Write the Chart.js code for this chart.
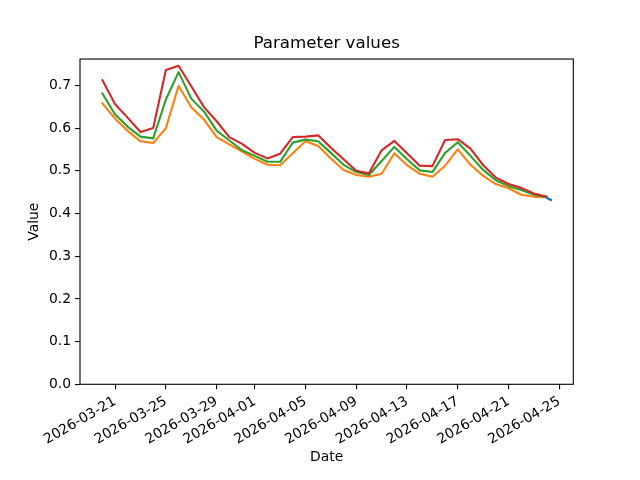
<!DOCTYPE html>
<html>
<head>
<meta charset="utf-8">
<script src="https://cdn.jsdelivr.net/npm/chart.js@4/dist/chart.umd.min.js"></script>
<style>
  html, body { margin: 0; padding: 0; background: #ffffff; }
  #wrap { width: 640px; height: 480px; }
</style>
</head>
<body>
<div id="wrap"><canvas id="c" width="640" height="480"></canvas></div>
<script>
// ---- data ----
const dates = [
  '2026-03-20','2026-03-21','2026-03-22','2026-03-23','2026-03-24','2026-03-25',
  '2026-03-26','2026-03-27','2026-03-28','2026-03-29','2026-03-30','2026-03-31',
  '2026-04-01','2026-04-02','2026-04-03','2026-04-04','2026-04-05','2026-04-06',
  '2026-04-07','2026-04-08','2026-04-09','2026-04-10','2026-04-11','2026-04-12',
  '2026-04-13','2026-04-14','2026-04-15','2026-04-16','2026-04-17','2026-04-18',
  '2026-04-19','2026-04-20','2026-04-21','2026-04-22','2026-04-23','2026-04-24'
];
const upperValues = [
  0.712, 0.656, 0.624, 0.591, 0.600, 0.736, 0.746, 0.698, 0.649, 0.616, 0.579, 0.563,
  0.542, 0.529, 0.540, 0.579, 0.580, 0.583, 0.554, 0.527, 0.500, 0.494, 0.548, 0.570,
  0.541, 0.512, 0.511, 0.572, 0.574, 0.552, 0.513, 0.484, 0.469, 0.460, 0.447, 0.439
];
const medianValues = [
  0.681, 0.632, 0.603, 0.580, 0.576, 0.667, 0.731, 0.669, 0.639, 0.594, 0.571, 0.548,
  0.535, 0.521, 0.521, 0.566, 0.573, 0.569, 0.542, 0.514, 0.497, 0.490, 0.523, 0.556,
  0.527, 0.501, 0.497, 0.542, 0.567, 0.535, 0.502, 0.478, 0.464, 0.455, 0.444, 0.439
];
const lowerValues = [
  0.658, 0.622, 0.593, 0.569, 0.565, 0.600, 0.699, 0.649, 0.620, 0.579, 0.562, 0.545,
  0.528, 0.514, 0.513, 0.541, 0.569, 0.558, 0.529, 0.502, 0.490, 0.486, 0.493, 0.541,
  0.513, 0.493, 0.486, 0.512, 0.550, 0.514, 0.488, 0.469, 0.459, 0.444, 0.439, 0.439
];
const recentTimes = ['2026-04-24T00:00', '2026-04-24T04:00', '2026-04-24T08:00'];
const recentValues = [0.437, 0.434, 0.432];

const xTickLabels = [
  '2026-03-21','2026-03-25','2026-03-29','2026-04-01','2026-04-05',
  '2026-04-09','2026-04-13','2026-04-17','2026-04-21','2026-04-25'
];
const yTickValues = [0.0, 0.1, 0.2, 0.3, 0.4, 0.5, 0.6, 0.7];

// ---- helpers ----
function dayNum(s) {
  const iso = s.length === 10 ? s + 'T00:00:00Z' : s + ':00Z';
  return Date.parse(iso) / 86400000;
}
function toPoints(xs, ys) {
  return xs.map((d, i) => ({ x: dayNum(d), y: ys[i] }));
}

const allX = dates.map(dayNum).concat(recentTimes.map(dayNum));
const xLo = Math.min(...allX), xHi = Math.max(...allX);
const xPad = (xHi - xLo) * 0.05;
const allY = upperValues.concat(medianValues, lowerValues, recentValues);
const yLo = Math.min(...allY), yHi = Math.max(...allY);
const yTop = yHi + (yHi - yLo) * 0.05;

const FONT = "'DejaVu Sans', sans-serif";
const TICK_FS = 13.9;

const frame = {
  id: 'frame',
  afterDatasetsDraw(chart) {
    const a = chart.chartArea, ctx = chart.ctx;
    ctx.save();
    ctx.strokeStyle = '#000';
    ctx.lineWidth = 1.1;
    ctx.strokeRect(a.left, a.top, a.right - a.left, a.bottom - a.top);
    ctx.restore();
  }
};

Chart.defaults.font.family = FONT;
Chart.defaults.color = '#000';

new Chart(document.getElementById('c'), {
  type: 'line',
  data: {
    datasets: [
      { label: 'recent', data: toPoints(recentTimes, recentValues), borderColor: '#1f77b4', borderWidth: 2.4, order: -1 },
      { label: 'lower', data: toPoints(dates, lowerValues), borderColor: '#ff7f0e', order: 2 },
      { label: 'median', data: toPoints(dates, medianValues), borderColor: '#2ca02c', order: 1 },
      { label: 'upper', data: toPoints(dates, upperValues), borderColor: '#d62728', order: 0 }
    ]
  },
  options: {
    responsive: false,
    animation: false,
    devicePixelRatio: 1,
    layout: { padding: { left: 0, right: 66.7, top: 0, bottom: 0 } },
    elements: {
      line: { borderWidth: 2.1, tension: 0, fill: false, borderCapStyle: 'square', borderJoinStyle: 'round' },
      point: { radius: 0, hoverRadius: 0 }
    },
    plugins: {
      legend: { display: false },
      tooltip: { enabled: false },
      title: {
        display: true,
        text: 'Parameter values',
        fullSize: false,
        color: '#000',
        font: { family: FONT, size: 16.7, weight: 'normal', lineHeight: 1.2 },
        padding: { top: 34, bottom: 5 }
      }
    },
    scales: {
      x: {
        type: 'linear',
        min: xLo - xPad,
        max: xHi + xPad,
        afterBuildTicks(scale) {
          scale.ticks = xTickLabels.map(s => ({ value: dayNum(s) }));
        },
        afterFit(scale) { scale.height = 480 - 384.3; },
        ticks: {
          autoSkip: false,
          minRotation: 30,
          maxRotation: 30,
          padding: 4,
          color: '#000',
          font: { family: FONT, size: TICK_FS },
          callback: (v, i) => xTickLabels[i]
        },
        grid: { display: true, drawOnChartArea: false, drawTicks: true, tickLength: 5, tickColor: '#000', lineWidth: 1.1 },
        border: { display: false },
        title: {
          display: true, text: 'Date', color: '#000',
          font: { family: FONT, size: TICK_FS, lineHeight: 1.2 },
          padding: { top: 0, bottom: 14 }
        }
      },
      y: {
        type: 'linear',
        min: 0,
        max: yTop,
        afterBuildTicks(scale) {
          scale.ticks = yTickValues.map(v => ({ value: v }));
        },
        afterFit(scale) { scale.width = 80; },
        ticks: {
          padding: 4,
          color: '#000',
          font: { family: FONT, size: TICK_FS },
          callback: (v) => Number(v).toFixed(1)
        },
        grid: { display: true, drawOnChartArea: false, drawTicks: true, tickLength: 5, tickColor: '#000', lineWidth: 1.1 },
        border: { display: false },
        title: {
          display: true, text: 'Value', color: '#000',
          font: { family: FONT, size: TICK_FS, lineHeight: 1.2 },
          padding: { top: 26, bottom: 0 }
        }
      }
    }
  },
  plugins: [frame]
});
</script>
</body>
</html>
